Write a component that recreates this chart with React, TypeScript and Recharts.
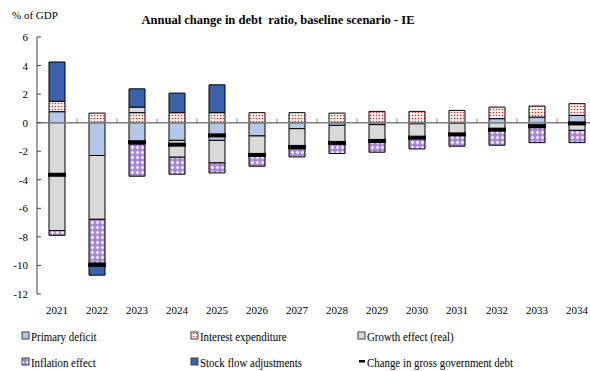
import React from 'react';
import { ComposedChart, Bar, Line, XAxis, YAxis, ReferenceLine } from 'recharts';

const years = ['2021', '2022', '2023', '2024', '2025', '2026', '2027', '2028', '2029', '2030', '2031', '2032', '2033', '2034'];
const primaryDeficit = [0.77, -2.3, -1.5, -1.24, -1.24, -0.93, -0.42, -0.19, -0.14, -0.08, -0.05, 0.28, 0.39, 0.51];
const interestExpenditure = [0.73, 0.67, 0.7, 0.7, 0.7, 0.7, 0.7, 0.67, 0.79, 0.79, 0.86, 0.81, 0.77, 0.82];
const growthEffect = [-7.56, -4.47, 0.39, -1.18, -1.58, -1.42, -1.42, -1.28, -1.14, -0.97, -0.77, -0.54, -0.35, -0.54];
const inflationEffect = [-0.33, -3.07, -2.25, -1.19, -0.7, -0.7, -0.56, -0.69, -0.79, -0.79, -0.83, -1.04, -1.05, -0.86];
const stockFlow: (number | null)[] = [2.75, -0.84, 1.28, 1.37, 1.95, null, null, null, null, null, null, null, null, null];
const changeDebt = [-3.65, -9.96, -1.37, -1.54, -0.89, -2.26, -1.7, -1.42, -1.28, -1.05, -0.82, -0.49, -0.24, -0.05];
const yTicks = [-12, -10, -8, -6, -4, -2, 0, 2, 4, 6];

const data = years.map((year, i) => ({
  year,
  primary: primaryDeficit[i],
  interest: interestExpenditure[i],
  growth: growthEffect[i],
  inflation: inflationEffect[i],
  sfa: stockFlow[i],
  change: changeDebt[i],
}));

const FONT = '"Liberation Serif", "Times New Roman", serif';

const PatternDefs = ({ suffix }: { suffix: string }) => (
  <defs>
    <pattern id={'patInterest' + suffix} width="3" height="3" patternUnits="userSpaceOnUse">
      <rect width="3" height="3" fill="#fff4f4" />
      <circle cx="1.5" cy="1.5" r="0.8" fill="#ee2a30" />
    </pattern>
    <pattern id={'patInflation' + suffix} width="5" height="5" patternUnits="userSpaceOnUse">
      <rect width="5" height="5" fill="#a886d6" />
      <path d="M2.5 0.6 L4.4 2.5 L2.5 4.4 L0.6 2.5 Z" fill="#f1eafb" />
    </pattern>
  </defs>
);

const ZeroLine = (props: any) => {
  const { x1, x2, y1 } = props;
  if (x1 == null || x2 == null || y1 == null) return null;
  const step = (x2 - x1) / years.length;
  const ticks = [];
  for (let i = 1; i < years.length; i++) {
    const x = x1 + step * i;
    ticks.push(<line key={i} x1={x} x2={x} y1={y1 - 4} y2={y1} stroke="#808080" strokeWidth={1} />);
  }
  return (
    <g>
      <line x1={x1} x2={x2} y1={y1} y2={y1} stroke="#808080" strokeWidth={1.5} />
      {ticks}
    </g>
  );
};

const YTick = (props: any) => {
  const { x, y, payload } = props;
  return (
    <g>
      <line x1={x + 9} x2={x + 13} y1={y} y2={y} stroke="#404040" strokeWidth={1} />
      <text x={x} y={y} dy={4} textAnchor="end" fontSize={11} fontFamily={FONT} fill="#000">
        {payload.value}
      </text>
    </g>
  );
};

const Marker = (props: any) => {
  const { cx, cy } = props;
  if (cx == null || cy == null) return null;
  return <rect x={cx - 9} y={cy - 2} width={18} height={4} fill="#000" />;
};

const legendItems = [
  { label: 'Primary deficit', fill: '#b4c7e7', x: 22, y: 336 },
  { label: 'Interest expenditure', fill: 'url(#patInterestL)', x: 191, y: 336 },
  { label: 'Growth effect (real)', fill: '#d9d9d9', x: 358, y: 336 },
  { label: 'Inflation effect', fill: 'url(#patInflationL)', x: 22, y: 362 },
  { label: 'Stock flow adjustments', fill: '#3a62ad', x: 191, y: 362 },
  { label: 'Change in gross government debt', fill: 'marker', x: 358, y: 362 },
];

export default function App() {
  return (
    <div style={{ position: 'absolute', left: 0, top: 0, width: 590, height: 371, overflow: 'hidden', background: '#fff', fontFamily: FONT }}>
      <ComposedChart
        width={600}
        height={371}
        data={data}
        stackOffset="sign"
        margin={{ top: 37, right: 3, left: 0, bottom: 57 }}
        barCategoryGap="0%"
      >
        <PatternDefs suffix="" />
        <XAxis
          dataKey="year"
          axisLine={false}
          tickLine={false}
          height={20}
          tick={{ fontSize: 11, fill: '#000', fontFamily: FONT }}
          dy={4}
          interval={0}
        />
        <YAxis
          domain={[-12, 6]}
          ticks={yTicks}
          width={37}
          interval={0}
          axisLine={{ stroke: '#404040', strokeWidth: 1 }}
          tickLine={false}
          tickSize={0}
          tickMargin={9}
          tick={<YTick />}
          allowDataOverflow
        />
        <ReferenceLine y={0} shape={ZeroLine} ifOverflow="extendDomain" />
        <Bar dataKey="primary" stackId="a" barSize={16} fill="#b4c7e7" stroke="#000" strokeWidth={1} isAnimationActive={false} />
        <Bar dataKey="interest" stackId="a" barSize={16} fill="url(#patInterest)" stroke="#000" strokeWidth={1} isAnimationActive={false} />
        <Bar dataKey="growth" stackId="a" barSize={16} fill="#d9d9d9" stroke="#000" strokeWidth={1} isAnimationActive={false} />
        <Bar dataKey="inflation" stackId="a" barSize={16} fill="url(#patInflation)" stroke="#000" strokeWidth={1} isAnimationActive={false} />
        <Bar dataKey="sfa" stackId="a" barSize={16} fill="#3a62ad" stroke="#000" strokeWidth={1} isAnimationActive={false} />
        <Line dataKey="change" stroke="none" dot={<Marker />} activeDot={false} legendType="none" isAnimationActive={false} />
        <text x={12} y={19} fontSize={11} fontFamily={FONT} fill="#000">% of GDP</text>
        <text x={278} y={24} textAnchor="middle" fontSize={12.5} fontWeight="bold" fontFamily={FONT} fill="#000" style={{ whiteSpace: 'pre' }}>
          {'Annual change in debt  ratio, baseline scenario - IE'}
        </text>
      </ComposedChart>
      <svg width={590} height={60} style={{ position: 'absolute', left: 0, top: 320 }}>
        <PatternDefs suffix="L" />
        {legendItems.map((it) => (
          <g key={it.label}>
            {it.fill === 'marker' ? (
              <rect x={it.x + 1} y={it.y - 320 - 2} width={6} height={2.5} fill="#000" />
            ) : (
              <rect x={it.x} y={it.y - 320 - 4} width={7} height={7} fill={it.fill} stroke="#404040" strokeWidth={1} />
            )}
            <text
              transform={`translate(${it.x + 9},${it.y - 320 + 4.5}) scale(0.87,1)`}
              fontSize={12.5}
              fontFamily={FONT}
              fill="#000"
            >
              {it.label}
            </text>
          </g>
        ))}
      </svg>
    </div>
  );
}
